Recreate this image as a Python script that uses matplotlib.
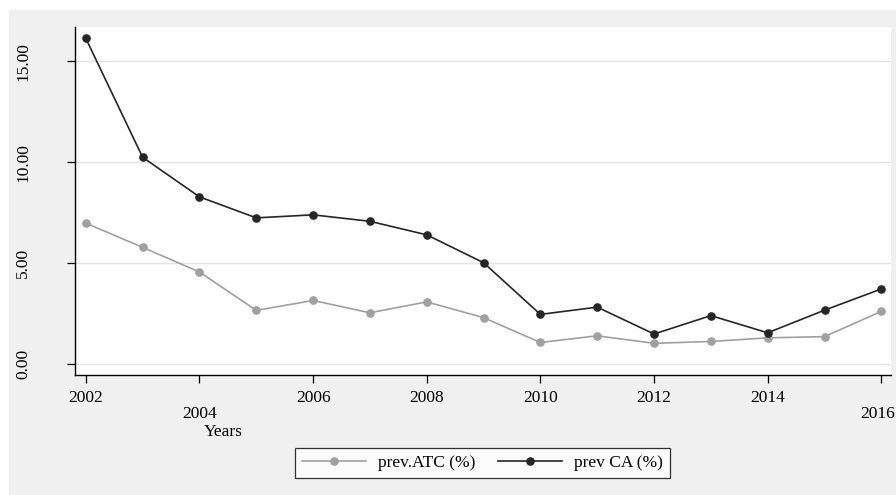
import numpy as np
import matplotlib.pyplot as plt
from matplotlib.patches import Rectangle
from matplotlib.transforms import ScaledTranslation

# data
years = [2002, 2003, 2004, 2005, 2006, 2007, 2008, 2009,
         2010, 2011, 2012, 2013, 2014, 2015, 2016]
prev_atc = [6.99, 5.79, 4.57, 2.67, 3.16, 2.55, 3.09, 2.31,
            1.08, 1.41, 1.04, 1.13, 1.31, 1.37, 2.62]
prev_ca = [16.14, 10.25, 8.29, 7.25, 7.40, 7.08, 6.41, 5.03,
           2.47, 2.83, 1.50, 2.41, 1.56, 2.68, 3.73]

x_ticks = [2002, 2004, 2006, 2008, 2010, 2012, 2014, 2016]
y_ticks = [0, 5, 10, 15]
y_labels = ["0.00", "5.00", "10.00", "15.00"]

plt.rcParams['font.family'] = ['Liberation Serif', 'DejaVu Serif']
fs = 12.5

W, H = 896, 495
fig = plt.figure(figsize=(W / 100, H / 100), dpi=100)
fig.patch.set_facecolor('white')

# light grey graph region
fig.patches.append(Rectangle((9 / W, 0), 1 - 9 / W, 1 - 10 / H,
                             transform=fig.transFigure, facecolor='#f0f0f0',
                             edgecolor='none', zorder=-10))

ax = fig.add_axes([75 / W, (H - 375) / H, (891 - 75) / W, (375 - 27) / H])
ax.set_facecolor('white')

ax.plot(years, prev_atc, color='#a0a0a0', lw=1.2, marker='o', ms=5.2,
        label='prev.ATC (%)')
ax.plot(years, prev_ca, color='#262626', lw=1.2, marker='o', ms=5.2,
        label='prev CA (%)')

ax.set_xlim(2001.81, 2016.17)
ax.set_ylim(-0.53, 16.7)

ax.set_yticks(y_ticks)
ax.set_yticklabels(y_labels, rotation=90, va='center')
ax.set_xticks(x_ticks)
ax.set_xticklabels([str(v) for v in x_ticks])

ax.grid(True, axis='y', color='#dde4ee', lw=1.0)
ax.set_axisbelow(True)

for s in ['top', 'right']:
    ax.spines[s].set_visible(False)
for s in ['left', 'bottom']:
    ax.spines[s].set_color('black')
    ax.spines[s].set_linewidth(1.0)

ax.tick_params(axis='y', length=6, width=0.9, pad=25.5, labelsize=fs)
ax.tick_params(axis='x', length=6, width=0.9, pad=5, labelsize=fs)

# staggered x labels as in the original
for lab in ax.get_xticklabels():
    if lab.get_text() == "2004":
        lab.set_transform(lab.get_transform() +
                          ScaledTranslation(0, -0.16, fig.dpi_scale_trans))
    elif lab.get_text() == "2016":
        lab.set_transform(lab.get_transform() +
                          ScaledTranslation(-0.04, -0.16, fig.dpi_scale_trans))

fig.text(223 / W, 1 - 432 / H, "Years", ha='center', va='center', fontsize=fs)

leg = ax.legend(loc='center', bbox_to_anchor=(482.5 / W, 1 - 463 / H),
                bbox_transform=fig.transFigure, ncol=2, fontsize=fs,
                frameon=True, fancybox=False, edgecolor='black',
                handlelength=3.7, handletextpad=0.7, columnspacing=1.3,
                borderpad=0.4, borderaxespad=0)
leg.get_frame().set_linewidth(0.9)

fig.savefig('out.png', dpi=100)
